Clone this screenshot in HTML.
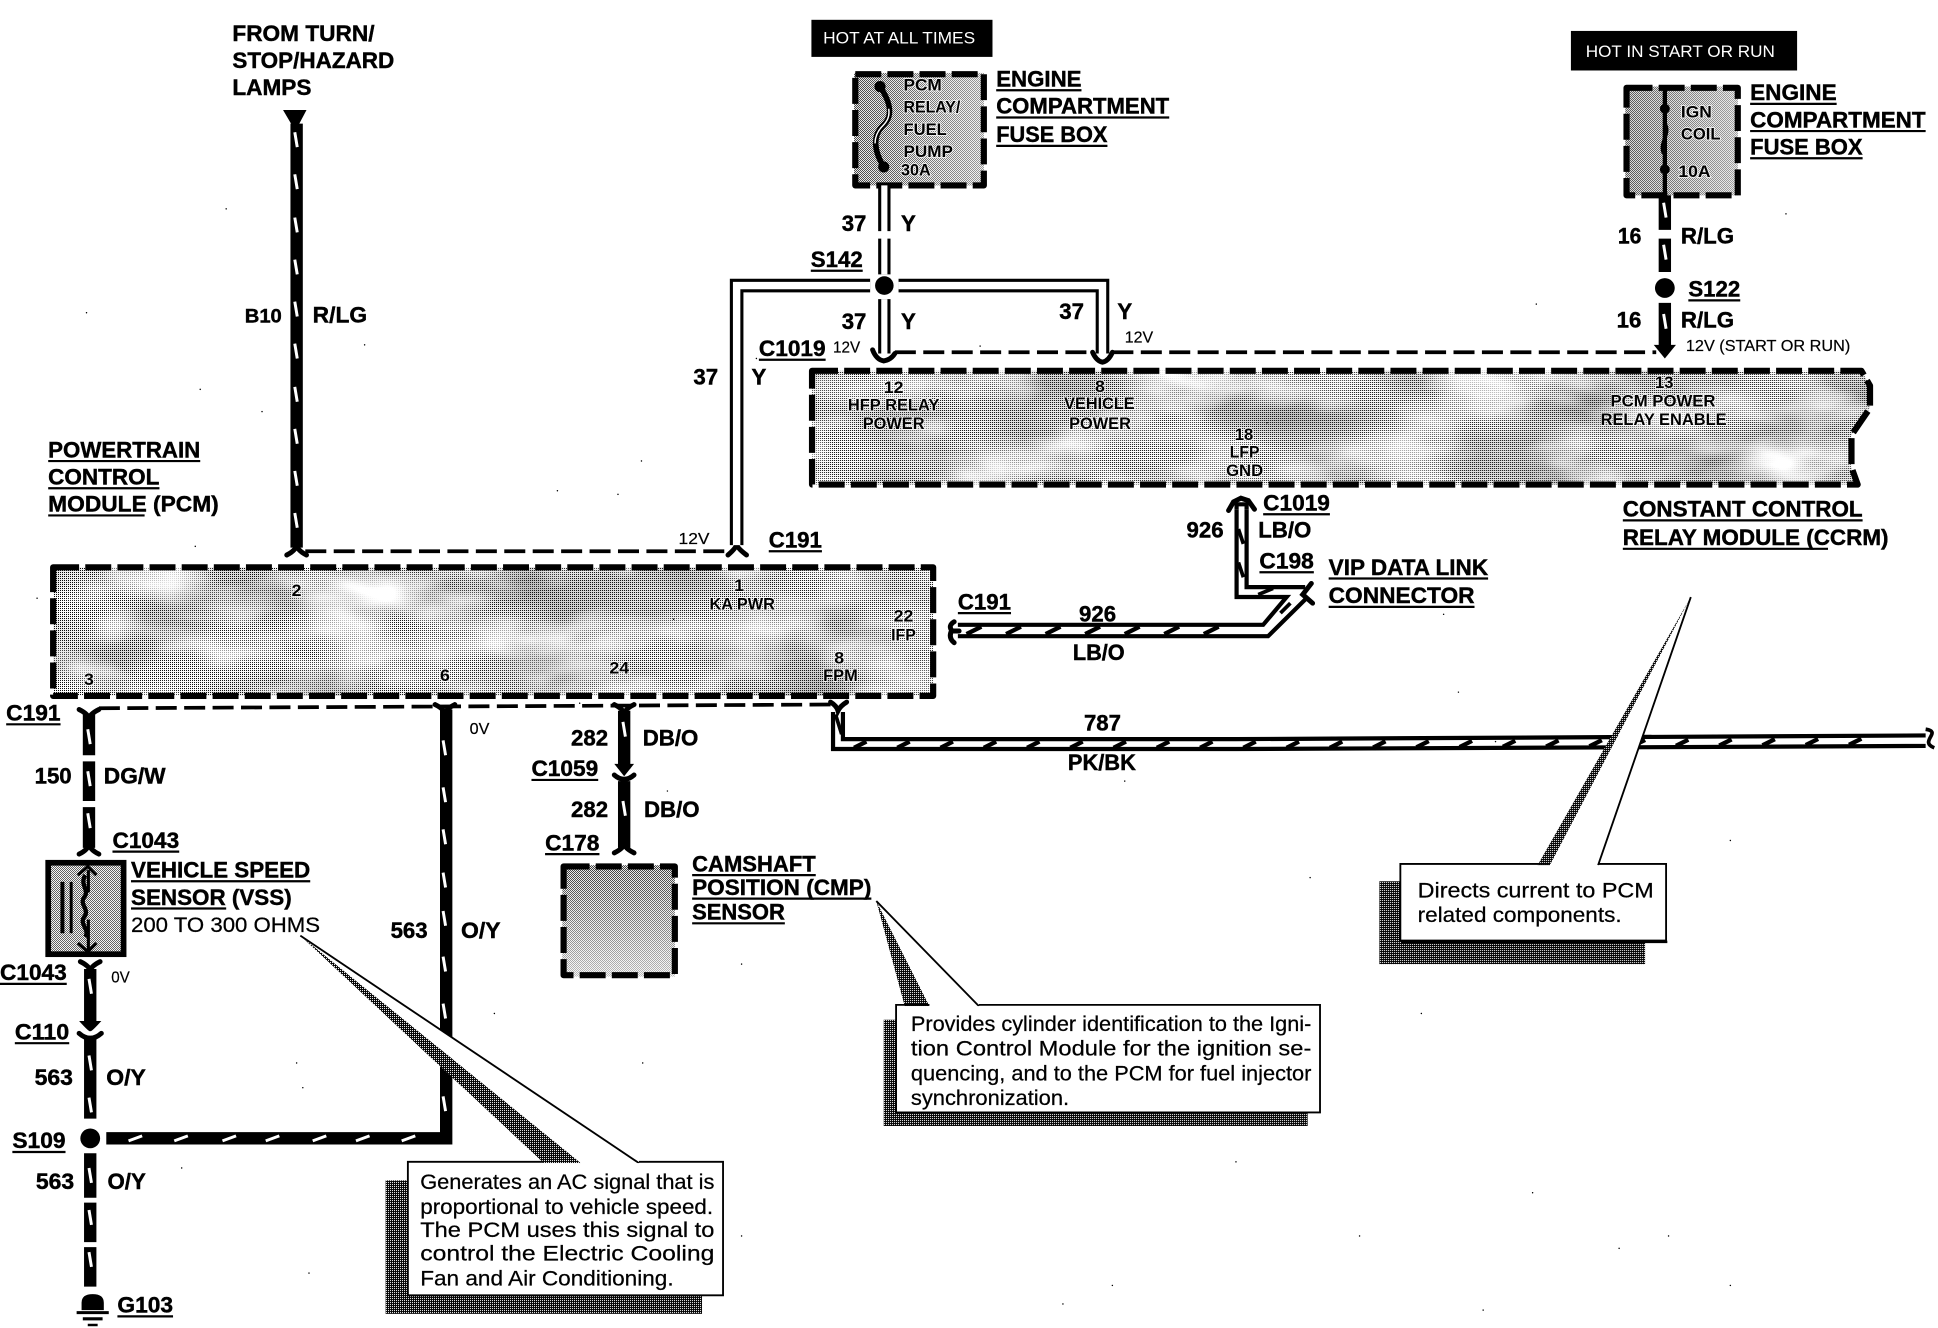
<!DOCTYPE html>
<html><head><meta charset="utf-8"><style>
html,body{margin:0;padding:0;background:#fff}
svg{display:block}
text{font-family:"Liberation Sans",sans-serif;fill:#000}
.b{font-size:18px;font-weight:bold;stroke:#000;stroke-width:.35}
.m{font-size:13.5px;font-weight:bold;fill:#000;stroke:#fff;stroke-opacity:.7;stroke-width:1.6;paint-order:stroke}
.s{font-size:12.5px;stroke:#000;stroke-width:.15}
.c{font-size:17.5px;stroke:#000;stroke-width:.2}
.w{stroke:#000;stroke-width:10;fill:none}
.t{stroke:#fff;stroke-width:2.4;fill:none}
.dw{stroke:#000;stroke-width:11;fill:none}
.wi{stroke:#fff;stroke-width:5;fill:none}
.k{stroke:#000;stroke-width:3.4;fill:none}
.d{stroke:#000;stroke-width:3;fill:none;stroke-dasharray:17 6}
.bx{stroke:#000;stroke-width:5;fill:none;stroke-dasharray:21 5;stroke-linejoin:round}
.f{stroke:#000;stroke-width:4;fill:none;stroke-linecap:round}
.u{stroke:#000;stroke-width:1.8;fill:none}
</style></head><body>
<svg xmlns="http://www.w3.org/2000/svg" width="1938" height="1328" viewBox="0 0 1568 1074.4">
<defs>
<pattern id="ht" width="2" height="2" patternUnits="userSpaceOnUse" patternTransform="scale(.809)">
<rect width="2" height="2" fill="#fff"/><rect width="1" height="1" fill="#000"/>
</pattern>
<pattern id="h5" width="2" height="2" patternUnits="userSpaceOnUse" patternTransform="scale(.809)">
<rect width="2" height="2" fill="#fff"/><rect width="1" height="1" fill="#000"/><rect x="1" y="1" width="1" height="1" fill="#000"/>
</pattern>
<pattern id="sh" width="2" height="2" patternUnits="userSpaceOnUse" patternTransform="scale(.809)">
<rect width="2" height="2" fill="#000"/><rect width="1" height="1" fill="#fff"/>
</pattern>
<linearGradient id="cg" x1="0" y1="0" x2="0" y2="1">
<stop offset="0" stop-color="#fff" stop-opacity=".15"/><stop offset="1" stop-color="#fff" stop-opacity=".7"/>
</linearGradient>
<linearGradient id="hg" x1="0" y1="0" x2="1" y2="0">
<stop offset="0" stop-color="#fff" stop-opacity=".2"/><stop offset="1" stop-color="#fff" stop-opacity=".55"/>
</linearGradient>
<filter id="mot" x="0" y="0" width="100%" height="100%">
<feTurbulence type="fractalNoise" baseFrequency=".012 .028" numOctaves="3" seed="7"/>
<feColorMatrix values="0 0 0 0 1 0 0 0 0 1 0 0 0 0 1 2.2 0 0 0 -.9"/>
<feComposite operator="in" in2="SourceAlpha"/>
</filter>
<filter id="drk" x="0" y="0" width="100%" height="100%">
<feTurbulence type="fractalNoise" baseFrequency=".01 .02" numOctaves="2" seed="3"/>
<feColorMatrix values="0 0 0 0 0 0 0 0 0 0 0 0 0 0 0 .6 0 0 0 -.25"/>
<feComposite operator="in" in2="SourceAlpha"/>
</filter>
</defs>
<rect width="1568" height="1075" fill="#fff"/>

<!-- halftone boxes -->
<g>
<rect x="43" y="459" width="712" height="104" fill="url(#ht)"/>
<rect x="43" y="459" width="712" height="104" fill="#000" filter="url(#drk)"/>
<rect x="43" y="459" width="712" height="104" fill="#fff" filter="url(#mot)"/>
<path d="M657 300H1506L1513 312V330L1498 352V378L1503 392H657Z" fill="url(#ht)"/>
<path d="M657 300H1506L1513 312V330L1498 352V378L1503 392H657Z" fill="#000" filter="url(#drk)"/>
<path d="M657 300H1506L1513 312V330L1498 352V378L1503 392H657Z" fill="#fff" filter="url(#mot)"/>
<rect x="691" y="59" width="105" height="91" fill="url(#h5)"/>
<rect x="691" y="59" width="105" height="91" fill="url(#hg)"/>
<rect x="1315" y="70" width="91" height="88" fill="url(#h5)"/>
<rect x="1315" y="70" width="91" height="88" fill="url(#hg)"/>
<rect x="40" y="698" width="60" height="73" fill="url(#h5)"/>
<rect x="40" y="698" width="60" height="73" fill="#fff" opacity=".35"/>
<rect x="455" y="700" width="91" height="90" fill="url(#h5)"/>
<rect x="455" y="700" width="91" height="90" fill="url(#cg)"/>
</g>

<!-- dashed box borders -->
<rect x="43" y="459" width="712" height="104" class="bx"/>
<path d="M657 300H1506L1513 312V330L1498 352V378L1503 392H657Z" class="bx"/>
<rect x="692" y="60" width="104" height="90" class="bx"/>
<rect x="1316" y="71" width="90" height="87" class="bx"/>
<rect x="456" y="701" width="90" height="88" class="bx"/>
<rect x="39" y="698" width="61" height="74" fill="none" stroke="#000" stroke-width="4.600"/>

<!-- black tags -->
<rect x="656.500" y="16" width="146.500" height="30" fill="#000"/>
<text x="666" y="35" textLength="123" lengthAdjust="spacingAndGlyphs" style="fill:#fff;font-size:13.500px">HOT AT ALL TIMES</text>
<rect x="1271" y="25" width="183" height="32" fill="#000"/>
<text x="1283" y="46" textLength="153" lengthAdjust="spacingAndGlyphs" style="fill:#fff;font-size:13.500px">HOT IN START OR RUN</text>

<!-- wire B10 -->
<path d="M229 89H248L239 106Z" fill="#000"/>
<path d="M240 100V443" class="w"/>
<path class="t" d="M238.500 107l2 12m-2 22l2 12m-2 23l2 12m-2 22l2 12m-2 22l2 12m-2 22l2 12m-2 23l2 12m-2 22l2 12m-2 22l2 12m-2 22l2 12"/>
<path d="M232 449Q240 445 240 440Q240 445 248 449" class="f"/>
<path d="M247 446H590" class="d"/>
<path d="M589 449Q596 443 596 440Q596 443 604 449" class="f"/>

<!-- wire 37 -->
<path d="M712 70C722 85 722 95 714 102C706 110 707 122 715 135" stroke="#000" stroke-width="4.500" fill="none"/>
<path d="M719 88C720 94 718 98 714 102C710 106 708 111 708 116" stroke="#fff" stroke-width="1.200" fill="none"/>
<circle cx="712" cy="70" r="4.500"/><circle cx="715" cy="135" r="4.500"/>
<path d="M715.500 150V187M715.500 193V222" class="dw" style="stroke-width:10"/><path d="M715.500 150V222" class="wi"/>
<path d="M715.500 242V286" class="dw" style="stroke-width:10"/><path d="M715.500 242V288" class="wi"/>
<circle cx="715.500" cy="231" r="7.500"/>
<path d="M596 441V231H704" class="dw"/><path d="M596 441V231H704" class="wi" style="stroke-width:6"/>
<path d="M727 231H892V286" class="dw"/><path d="M727 231H892V286" class="wi" style="stroke-width:6"/>
<path d="M706 283Q709 291 715 292Q721 291 724 286" class="f"/>
<path d="M884 285Q887 292 892 293Q897 292 900 285" class="f"/>
<path d="M724 285H885M900 285H1340" class="d"/>

<!-- wire 16 -->
<path d="M1347 71V157" stroke="#000" stroke-width="3.500" fill="none"/>
<path d="M1347 100C1352 108 1342 116 1346 124" stroke="#000" stroke-width="3" fill="none"/>
<circle cx="1347" cy="88" r="4"/><circle cx="1347" cy="137" r="4"/>
<path d="M1347 158V186M1347 193V220" class="w"/>
<path class="t" d="M1346 164l2 12m-2 22l2 12"/>
<circle cx="1347" cy="233" r="8"/>
<path d="M1347 245V281" class="w"/><path class="t" d="M1346 254l2 12"/>
<path d="M1338 279H1356L1347 290Z" fill="#000"/>

<!-- wire 926 -->
<path d="M1000.500 412V483H1041L1022 505.500H775" class="k"/>
<path d="M1008.600 412V475H1056" class="k"/>
<path d="M775 514.700H1026L1056 485" class="k"/>
<path d="M994 413L998 406L1004 403L1010 405L1015 412" class="f"/>
<path d="M1000.500 412V408H1008.600V412" class="k"/>
<path d="M1002 428l4 12M1002 455l4 12" stroke="#000" stroke-width="3" fill="none"/>
<path d="M1018 481l12 -5M1036 496l8 -8" stroke="#000" stroke-width="3" fill="none"/>
<path d="M1061 472L1054 481L1062 488" class="f"/>
<path d="M782 513l12 -6m20 6l12 -6m20 6l12 -6m20 6l12 -6m20 6l12 -6m20 6l12 -6m20 6l12 -6" stroke="#000" stroke-width="3.500" fill="none"/>
<path d="M772 503Q767 506 770 510Q767 516 772 520M770 510.500H776" class="f"/>

<!-- lower dashed line -->
<path d="M80 573L672 570" class="d"/>

<!-- wire 787 -->
<path d="M672 568Q677 571 678 575Q680 571 685 568" class="f"/>
<path d="M674 576V606H1000L1558 603.500" class="k"/>
<path d="M682 576V598H1000L1558 595" class="k"/>
<path d="M676 578l5 16" stroke="#000" stroke-width="3" fill="none"/>
<path d="M691 605l10 -5m25 5l10 -5m25 5l10 -5m25 5l10 -5m25 5l10 -5m25 5l10 -5m25 5l10 -5m25 5l10 -5m25 5l10 -5m25 5l10 -5m25 5l10 -5m25 5l10 -5m25 4.800l10 -5m25 4.800l10 -5m25 4.800l10 -5m25 4.800l10 -5m25 4.800l10 -5m25 4.800l10 -5m25 4.800l10 -5m25 4.800l10 -5m25 4.800l10 -5m25 4.800l10 -5m25 4.800l10 -5m25 4.800l10 -5" stroke="#000" stroke-width="3.500" fill="none"/>
<path d="M1558 590C1572 592 1552 600 1565 605" stroke="#000" stroke-width="3" fill="none"/>

<!-- wire 150 -->
<path d="M72 578V611M72 616V648M72 653V686" class="w"/>
<path class="t" d="M71 590l2 12m-2 22l2 12m-2 22l2 12"/>
<path d="M64 574Q72 578 72 582Q72 578 80 574" class="f"/>
<path d="M64 691Q72 687 72 682Q72 687 80 691" class="f"/>
<!-- VSS internals -->
<path d="M71.500 704V722M71.500 744V770" stroke="#000" stroke-width="2.500" fill="none"/>
<path d="M69 708C64 716 73 720 68 726C64 732 73 736 68 742C64 748 73 752 69 758" stroke="#000" stroke-width="3.500" fill="none"/>
<path d="M50.500 713.500V755" stroke="#000" stroke-width="3.200"/><path d="M57.600 713.500V755" stroke="#000" stroke-width="2.400"/>
<path d="M63 708L71 701L78 708M63 763L71 770L78 763" stroke="#000" stroke-width="2.500" fill="none"/>

<!-- wire lower left -->
<path d="M65 778Q73 782 73 786Q73 782 81 778" class="f"/>
<path d="M73 784V826" class="w"/><path class="t" d="M72 792l2 12"/>
<path d="M64 826Q73 836 73 834Q73 836 82 826Z" fill="#000"/>
<path d="M64 836Q73 844 82 836" class="f"/>
<path d="M73 840V905" class="w"/><path class="t" d="M72 854l2 12m-2 22l2 12"/>
<circle cx="73" cy="921" r="8"/>
<path d="M73 933V969M73 973V1005M73 1009V1041" class="w"/><path class="t" d="M72 945l2 12m-2 22l2 12m-2 22l2 12"/>
<path d="M86 921H361V574" class="w"/>
<path class="t" d="M104 923l11 -4m26 4l11 -4m28 4l11 -4m24 4l11 -4m27 4l11 -4m24 4l11 -4m26 4l11 -4"/>
<path class="t" d="M358.500 599l2 12m-2 26l2 12m-2 22l2 12m-2 23l2 12m-2 19l2 12m-2 25l2 12m-2 26l2 12m-2 63l2 12"/>
<path d="M352 570Q360 574 360 578Q360 574 368 570" class="f"/>
<!-- ground -->
<path d="M66 1060V1054Q66 1047 75 1047Q84 1047 84 1054V1060Z" fill="#000"/>
<path d="M62 1062H88" stroke="#000" stroke-width="2.500"/><path d="M67 1067H83" stroke="#000" stroke-width="2.500"/><path d="M71 1072H79" stroke="#000" stroke-width="2"/>

<!-- wire 282 -->
<path d="M497 570Q505 574 505 578Q505 574 513 570" class="f"/>
<path d="M505 575V622" class="w"/><path class="t" d="M504 584l2 12"/>
<path d="M497 618H513L505 628Z" fill="#000"/>
<path d="M497 627Q505 634 513 627" class="f"/>
<path d="M505 632V686" class="w"/><path class="t" d="M504 648l2 12"/>
<path d="M497 690Q505 686 505 682Q505 686 513 690" class="f"/>

<!-- Labels -->
<g class="b">
<text x="188" y="33" textLength="115" lengthAdjust="spacingAndGlyphs" class="b">FROM TURN/</text>
<text x="188" y="55" textLength="131" lengthAdjust="spacingAndGlyphs" class="b">STOP/HAZARD</text>
<text x="188" y="77" textLength="64" lengthAdjust="spacingAndGlyphs" class="b">LAMPS</text>
<text x="198" y="261" textLength="30" lengthAdjust="spacingAndGlyphs" class="b" style="font-size:16px">B10</text>
<text x="253" y="261" textLength="44" lengthAdjust="spacingAndGlyphs" class="b">R/LG</text>
<text x="39" y="370" textLength="123" lengthAdjust="spacingAndGlyphs" class="b">POWERTRAIN</text>
<text x="39" y="392" textLength="90" lengthAdjust="spacingAndGlyphs" class="b">CONTROL</text>
<text x="39" y="414" textLength="138" lengthAdjust="spacingAndGlyphs" class="b">MODULE (PCM)</text>
<text x="622" y="443" textLength="43" lengthAdjust="spacingAndGlyphs" class="b">C191</text>
<text x="656" y="216" textLength="42" lengthAdjust="spacingAndGlyphs" class="b">S142</text>
<text x="614" y="288" textLength="54" lengthAdjust="spacingAndGlyphs" class="b">C1019</text>
<text x="681" y="187" textLength="20" lengthAdjust="spacingAndGlyphs" class="b">37</text>
<text x="729" y="187" textLength="12" lengthAdjust="spacingAndGlyphs" class="b">Y</text>
<text x="681" y="266" textLength="20" lengthAdjust="spacingAndGlyphs" class="b">37</text>
<text x="729" y="266" textLength="12" lengthAdjust="spacingAndGlyphs" class="b">Y</text>
<text x="561" y="311" textLength="20" lengthAdjust="spacingAndGlyphs" class="b">37</text>
<text x="608" y="311" textLength="12" lengthAdjust="spacingAndGlyphs" class="b">Y</text>
<text x="857" y="258" textLength="20" lengthAdjust="spacingAndGlyphs" class="b">37</text>
<text x="904" y="258" textLength="12" lengthAdjust="spacingAndGlyphs" class="b">Y</text>
<text x="806" y="70" textLength="69" lengthAdjust="spacingAndGlyphs" class="b">ENGINE</text>
<text x="806" y="92" textLength="140" lengthAdjust="spacingAndGlyphs" class="b">COMPARTMENT</text>
<text x="806" y="115" textLength="90" lengthAdjust="spacingAndGlyphs" class="b">FUSE BOX</text>
<text x="1416" y="81" textLength="70" lengthAdjust="spacingAndGlyphs" class="b">ENGINE</text>
<text x="1416" y="103" textLength="142" lengthAdjust="spacingAndGlyphs" class="b">COMPARTMENT</text>
<text x="1416" y="125" textLength="91" lengthAdjust="spacingAndGlyphs" class="b">FUSE BOX</text>
<text x="1309" y="197" textLength="19" lengthAdjust="spacingAndGlyphs" class="b">16</text>
<text x="1360" y="197" textLength="43" lengthAdjust="spacingAndGlyphs" class="b">R/LG</text>
<text x="1366" y="240" textLength="42" lengthAdjust="spacingAndGlyphs" class="b">S122</text>
<text x="1308" y="265" textLength="20" lengthAdjust="spacingAndGlyphs" class="b">16</text>
<text x="1360" y="265" textLength="43" lengthAdjust="spacingAndGlyphs" class="b">R/LG</text>
<text x="1022" y="413" textLength="54" lengthAdjust="spacingAndGlyphs" class="b">C1019</text>
<text x="960" y="435" textLength="30" lengthAdjust="spacingAndGlyphs" class="b">926</text>
<text x="1018" y="435" textLength="43" lengthAdjust="spacingAndGlyphs" class="b">LB/O</text>
<text x="1019" y="460" textLength="44" lengthAdjust="spacingAndGlyphs" class="b">C198</text>
<text x="1075" y="465" textLength="129" lengthAdjust="spacingAndGlyphs" class="b">VIP DATA LINK</text>
<text x="1075" y="488" textLength="118" lengthAdjust="spacingAndGlyphs" class="b">CONNECTOR</text>
<text x="775" y="493" textLength="43" lengthAdjust="spacingAndGlyphs" class="b">C191</text>
<text x="873" y="503" textLength="30" lengthAdjust="spacingAndGlyphs" class="b">926</text>
<text x="868" y="534" textLength="42" lengthAdjust="spacingAndGlyphs" class="b">LB/O</text>
<text x="1313" y="418" textLength="194" lengthAdjust="spacingAndGlyphs" class="b">CONSTANT CONTROL</text>
<text x="1313" y="441" textLength="215" lengthAdjust="spacingAndGlyphs" class="b">RELAY MODULE (CCRM)</text>
<text x="877" y="591" textLength="30" lengthAdjust="spacingAndGlyphs" class="b">787</text>
<text x="864" y="623" textLength="55" lengthAdjust="spacingAndGlyphs" class="b">PK/BK</text>
<text x="5" y="583" textLength="44" lengthAdjust="spacingAndGlyphs" class="b">C191</text>
<text x="28" y="634" textLength="30" lengthAdjust="spacingAndGlyphs" class="b">150</text>
<text x="84" y="634" textLength="50" lengthAdjust="spacingAndGlyphs" class="b">DG/W</text>
<text x="91" y="686" textLength="54" lengthAdjust="spacingAndGlyphs" class="b">C1043</text>
<text x="106" y="710" textLength="145" lengthAdjust="spacingAndGlyphs" class="b">VEHICLE SPEED</text>
<text x="106" y="732" textLength="130" lengthAdjust="spacingAndGlyphs" class="b">SENSOR (VSS)</text>
<text x="0" y="793" textLength="54" lengthAdjust="spacingAndGlyphs" class="b">C1043</text>
<text x="12" y="841" textLength="44" lengthAdjust="spacingAndGlyphs" class="b">C110</text>
<text x="28" y="878" textLength="31" lengthAdjust="spacingAndGlyphs" class="b">563</text>
<text x="86" y="878" textLength="32" lengthAdjust="spacingAndGlyphs" class="b">O/Y</text>
<text x="10" y="929" textLength="43" lengthAdjust="spacingAndGlyphs" class="b">S109</text>
<text x="29" y="962" textLength="31" lengthAdjust="spacingAndGlyphs" class="b">563</text>
<text x="87" y="962" textLength="31" lengthAdjust="spacingAndGlyphs" class="b">O/Y</text>
<text x="95" y="1062" textLength="45" lengthAdjust="spacingAndGlyphs" class="b">G103</text>
<text x="316" y="759" textLength="30" lengthAdjust="spacingAndGlyphs" class="b">563</text>
<text x="373" y="759" textLength="32" lengthAdjust="spacingAndGlyphs" class="b">O/Y</text>
<text x="462" y="603" textLength="30" lengthAdjust="spacingAndGlyphs" class="b">282</text>
<text x="520" y="603" textLength="45" lengthAdjust="spacingAndGlyphs" class="b">DB/O</text>
<text x="430" y="628" textLength="54" lengthAdjust="spacingAndGlyphs" class="b">C1059</text>
<text x="462" y="661" textLength="30" lengthAdjust="spacingAndGlyphs" class="b">282</text>
<text x="521" y="661" textLength="45" lengthAdjust="spacingAndGlyphs" class="b">DB/O</text>
<text x="441" y="688" textLength="44" lengthAdjust="spacingAndGlyphs" class="b">C178</text>
<text x="560" y="705" textLength="100" lengthAdjust="spacingAndGlyphs" class="b">CAMSHAFT</text>
<text x="560" y="724" textLength="145" lengthAdjust="spacingAndGlyphs" class="b">POSITION (CMP)</text>
<text x="560" y="744" textLength="75" lengthAdjust="spacingAndGlyphs" class="b">SENSOR</text>
</g>
<text x="106" y="754" textLength="153" lengthAdjust="spacingAndGlyphs" class="c">200 TO 300 OHMS</text>

<!-- underlines -->
<path class="u" d="M39 373H162M39 395H129M39 417H117M622 446H665M656 219H698M614 291H668M806 73H875M806 95H946M806 118H896M1416 84H1486M1416 106H1558M1416 128H1507M1366 243H1408M1022 416H1076M1019 463H1063M1075 468H1204M1075 491H1193M775 496H818M1313 421H1507M1313 444H1479M5 586H49M91 689H145M106 713H251M106 735H183M0 796H54M12 844H56M10 932H53M95 1065H140M430 631H484M441 691H485M560 708H660M560 727H705M560 747H635"/>

<!-- small voltage labels -->
<text x="549" y="440" textLength="25" lengthAdjust="spacingAndGlyphs" class="s">12V</text>
<text x="674" y="285" textLength="22" lengthAdjust="spacingAndGlyphs" class="s">12V</text>
<text x="910" y="277" textLength="23" lengthAdjust="spacingAndGlyphs" class="s">12V</text>
<text x="1364" y="284" textLength="133" lengthAdjust="spacingAndGlyphs" class="s">12V (START OR RUN)</text>
<text x="380" y="594" textLength="16" lengthAdjust="spacingAndGlyphs" class="s">0V</text>
<text x="90" y="795" textLength="15" lengthAdjust="spacingAndGlyphs" class="s">0V</text>

<!-- inner labels -->
<text x="731" y="73" textLength="31" lengthAdjust="spacingAndGlyphs" class="m">PCM</text>
<text x="731" y="91" textLength="46" lengthAdjust="spacingAndGlyphs" class="m">RELAY/</text>
<text x="731" y="109" textLength="35" lengthAdjust="spacingAndGlyphs" class="m">FUEL</text>
<text x="731" y="127" textLength="40" lengthAdjust="spacingAndGlyphs" class="m">PUMP</text>
<text x="729" y="142" textLength="24" lengthAdjust="spacingAndGlyphs" class="m">30A</text>
<text x="1360" y="95" textLength="25" lengthAdjust="spacingAndGlyphs" class="m">IGN</text>
<text x="1360" y="113" textLength="32" lengthAdjust="spacingAndGlyphs" class="m">COIL</text>
<text x="1358" y="143" textLength="26" lengthAdjust="spacingAndGlyphs" class="m">10A</text>
<text x="715" y="318" textLength="16" lengthAdjust="spacingAndGlyphs" class="m">12</text>
<text x="686" y="332" textLength="74" lengthAdjust="spacingAndGlyphs" class="m">HFP RELAY</text>
<text x="698" y="347" textLength="50" lengthAdjust="spacingAndGlyphs" class="m">POWER</text>
<text x="886" y="317" textLength="8" lengthAdjust="spacingAndGlyphs" class="m">8</text>
<text x="861" y="331" textLength="57" lengthAdjust="spacingAndGlyphs" class="m">VEHICLE</text>
<text x="865" y="347" textLength="50" lengthAdjust="spacingAndGlyphs" class="m">POWER</text>
<text x="999" y="356" textLength="15" lengthAdjust="spacingAndGlyphs" class="m">18</text>
<text x="995" y="370" textLength="24" lengthAdjust="spacingAndGlyphs" class="m">LFP</text>
<text x="992" y="385" textLength="30" lengthAdjust="spacingAndGlyphs" class="m">GND</text>
<text x="1339" y="314" textLength="15" lengthAdjust="spacingAndGlyphs" class="m">13</text>
<text x="1303" y="329" textLength="85" lengthAdjust="spacingAndGlyphs" class="m">PCM POWER</text>
<text x="1295" y="344" textLength="102" lengthAdjust="spacingAndGlyphs" class="m">RELAY ENABLE</text>
<text x="236" y="482" textLength="8" lengthAdjust="spacingAndGlyphs" class="m">2</text>
<text x="594" y="478" textLength="8" lengthAdjust="spacingAndGlyphs" class="m">1</text>
<text x="574" y="493" textLength="53" lengthAdjust="spacingAndGlyphs" class="m">KA PWR</text>
<text x="723" y="503" textLength="16" lengthAdjust="spacingAndGlyphs" class="m">22</text>
<text x="721" y="518" textLength="20" lengthAdjust="spacingAndGlyphs" class="m">IFP</text>
<text x="675" y="537" textLength="8" lengthAdjust="spacingAndGlyphs" class="m">8</text>
<text x="666" y="551" textLength="28" lengthAdjust="spacingAndGlyphs" class="m">FPM</text>
<text x="68" y="554" textLength="8" lengthAdjust="spacingAndGlyphs" class="m">3</text>
<text x="356" y="551" textLength="8" lengthAdjust="spacingAndGlyphs" class="m">6</text>
<text x="493" y="545" textLength="16" lengthAdjust="spacingAndGlyphs" class="m">24</text>

<!-- callout 1 -->
<path d="M312 955H330V1048H568V1063H312Z" fill="url(#sh)"/>
<path d="M243 757L470 941H440Z" fill="url(#sh)"/>
<path d="M243 757L517 941H470Z" fill="#fff"/>
<path d="M243 757L517 941" stroke="#000" stroke-width="1.500" fill="none"/>
<rect x="330" y="941" width="255" height="107" fill="#fff"/>
<path d="M440 940H330V1048H585V940H517" stroke="#000" stroke-width="1.500" fill="none"/>
<text x="340" y="962" textLength="238" lengthAdjust="spacingAndGlyphs" class="c">Generates an AC signal that is</text>
<text x="340" y="982" textLength="237" lengthAdjust="spacingAndGlyphs" class="c">proportional to vehicle speed.</text>
<text x="340" y="1001" textLength="238" lengthAdjust="spacingAndGlyphs" class="c">The PCM uses this signal to</text>
<text x="340" y="1020" textLength="238" lengthAdjust="spacingAndGlyphs" class="c">control the Electric Cooling</text>
<text x="340" y="1040" textLength="205" lengthAdjust="spacingAndGlyphs" class="c">Fan and Air Conditioning.</text>

<!-- callout 2 -->
<path d="M715 825H726V899H1058V911H715Z" fill="url(#sh)"/>
<path d="M709 729L752 814H732Z" fill="url(#sh)"/>
<path d="M709 729L792 814H752Z" fill="#fff"/>
<path d="M709 729L792 814" stroke="#000" stroke-width="1.500" fill="none"/>
<rect x="725" y="814" width="343" height="86" fill="#fff"/>
<path d="M752 813H725V900H1068V813H792" stroke="#000" stroke-width="1.500" fill="none"/>
<text x="737" y="834" textLength="324" lengthAdjust="spacingAndGlyphs" class="c">Provides cylinder identification to the Igni-</text>
<text x="737" y="854" textLength="324" lengthAdjust="spacingAndGlyphs" class="c">tion Control Module for the ignition se-</text>
<text x="737" y="874" textLength="324" lengthAdjust="spacingAndGlyphs" class="c">quencing, and to the PCM for fuel injector</text>
<text x="737" y="894" textLength="128" lengthAdjust="spacingAndGlyphs" class="c">synchronization.</text>

<!-- callout 3 -->
<path d="M1116 713H1134V760H1331V780H1116Z" fill="url(#sh)"/>
<path d="M1368 483L1254 700H1244Z" fill="url(#sh)"/>
<path d="M1368 483L1293 700H1254Z" fill="#fff"/>
<path d="M1368 483L1293 700" stroke="#000" stroke-width="1.500" fill="none"/>
<rect x="1133" y="700" width="215" height="61" fill="#fff"/>
<path d="M1254 699H1133V761H1348V699H1293" stroke="#000" stroke-width="1.500" fill="none"/>
<path d="M1134 762H1349" stroke="#000" stroke-width="2"/>
<text x="1147" y="726" textLength="191" lengthAdjust="spacingAndGlyphs" class="c">Directs current to PCM</text>
<text x="1147" y="746" textLength="165" lengthAdjust="spacingAndGlyphs" class="c">related components.</text>

<!-- specks -->
<path stroke="#000" stroke-width="1.200" stroke-linecap="round" d="M183 169h0M70 253h0M162 315h0M212 333h0M295 279h0M158 442h0M30 484h0M519 373h0M451 397h0M500 400h0M545 501h0M469 569h0M612 290h0M793 280h0M1025 342h0M1243 246h0M1445 173h0M1168 497h0M910 632h0M1180 560h0M1210 600h0M1400 680h0M1150 820h0M1000 940h0M1240 965h0M1100 1000h0M1350 1000h0M1400 1040h0M1200 1060h0M1310 1010h0M860 1055h0M900 1040h0M240 860h0M245 880h0M147 945h0M250 1030h0M400 820h0M520 860h0M600 1000h0M540 640h0M600 780h0M1060 710h0"/>
</svg>
</body></html>
